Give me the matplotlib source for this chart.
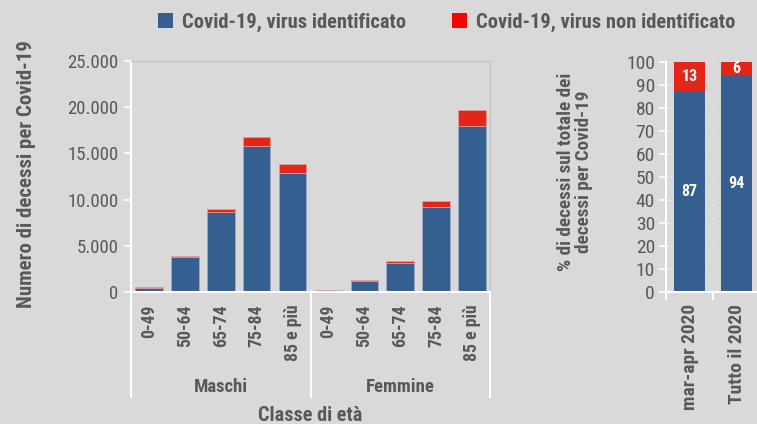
import matplotlib
matplotlib.use("Agg")
import matplotlib.pyplot as plt
from matplotlib.ticker import FuncFormatter, MultipleLocator
from matplotlib.patches import Patch
import numpy as np

# data
eta = ["0-49", "50-64", "65-74", "75-84", "85 e più"]
gruppi = ["Maschi", "Femmine"]
maschi_ident = [480, 3750, 8700, 15850, 12850]
maschi_non = [40, 170, 320, 900, 1000]
femmine_ident = [170, 1150, 3150, 9200, 17950]
femmine_non = [30, 140, 200, 650, 1700]

periodi = ["mar-apr 2020", "Tutto il 2020"]
perc_ident = [87, 94]
perc_non = [13, 6]

BLUE = "#355F91"
RED = "#E42619"
BG = "#D9D9D9"
GREY = "#595959"
FONT = ["Roboto Condensed", "DejaVu Sans"]

plt.rcParams["font.family"] = FONT

fig = plt.figure(figsize=(7.57, 4.24), dpi=100, facecolor=BG)

# ---- left chart: absolute numbers
ax = fig.add_axes([0.1731, 0.3113, 0.4742, 0.5448], facecolor=BG)
ident = maschi_ident + femmine_ident
non = maschi_non + femmine_non
x = np.arange(len(ident))
ax.bar(x, ident, width=0.77, color=BLUE, edgecolor="#9fb0c8", linewidth=0.5)
ax.bar(x, non, bottom=ident, width=0.77, color=RED, edgecolor="#e9a0a0", linewidth=0.5)
ax.set_xlim(-0.5, len(ident) - 0.5)
ax.set_ylim(0, 25000)
ax.yaxis.set_major_locator(MultipleLocator(5000))
ax.yaxis.set_major_formatter(FuncFormatter(lambda v, p: f"{int(v):,}".replace(",", ".")))
ax.set_xticks(x)
ax.set_xticklabels(eta * 2, rotation=90, fontweight="bold", fontsize=12.8, color=GREY)
ax.tick_params(axis="x", length=0, pad=9)
ax.tick_params(axis="y", colors="white", labelcolor=GREY, labelsize=13.5, length=5, width=1.2, pad=4)
for s in ["left", "bottom"]:
    ax.spines[s].set_color("white")
    ax.spines[s].set_linewidth(1.5)
for s in ["top", "right"]:
    ax.spines[s].set_color("#c4c4c4")
    ax.spines[s].set_linewidth(1)

# group separators and labels under the axis
tr = ax.get_xaxis_transform()
for xv in [-0.5, 4.5, 9.5]:
    ax.plot([xv, xv], [0, -0.455], transform=tr, color="white", lw=1.5, clip_on=False)
for i, g in enumerate(gruppi):
    ax.text(2 + 5 * i, -0.41, g, transform=tr, ha="center", va="center",
            fontsize=13.5, fontweight="bold", color=GREY)
fig.text(0.4095, 0.021, "Classe di età", ha="center", va="center",
         fontsize=14.6, fontweight="bold", color=GREY)
fig.text(0.035, 0.59, "Numero di decessi per Covid-19", rotation=90,
         ha="center", va="center", fontsize=15, fontweight="bold", color=GREY)

# ---- right chart: percentages
ax2 = fig.add_axes([0.8798, 0.312, 0.1242, 0.5425], facecolor=BG)
xp = np.arange(len(periodi))
ax2.bar(xp, perc_ident, width=0.64, color=BLUE)
ax2.bar(xp, perc_non, bottom=perc_ident, width=0.64, color=RED)
for i in xp:
    ax2.text(i, perc_ident[i] / 2, str(perc_ident[i]), ha="center", va="center",
             color="white", fontsize=11.5, fontweight="bold")
    ax2.text(i, perc_ident[i] + perc_non[i] / 2, str(perc_non[i]), ha="center", va="center",
             color="white", fontsize=11.5, fontweight="bold")
ax2.set_xlim(-0.5, 1.5)
ax2.set_ylim(0, 100)
ax2.yaxis.set_major_locator(MultipleLocator(10))
ax2.set_axisbelow(True)
ax2.grid(axis="y", color="#e4e4e4", lw=0.8, ls=(0, (5, 3)))
ax2.set_xticks([-0.5, 0.5], minor=False)
ax2.set_xticklabels([])
ax2.set_xticks(xp, minor=True)
ax2.set_xticklabels(periodi, minor=True, rotation=90, fontsize=14,
                    fontweight="bold", color=GREY)
ax2.tick_params(axis="x", which="minor", length=0, pad=9)
ax2.tick_params(axis="x", which="major", colors="white", length=6, width=1.5)
ax2.tick_params(axis="y", colors="white", labelcolor=GREY, labelsize=14, length=5, width=1.2, pad=3)
for s in ["left", "bottom"]:
    ax2.spines[s].set_color("white")
    ax2.spines[s].set_linewidth(1.5)
for s in ["top", "right"]:
    ax2.spines[s].set_visible(False)
fig.text(0.76, 0.594, "% di decessi sul totale dei\ndecessi per Covid-19", rotation=90,
         ha="center", va="center", fontsize=13.8, fontweight="bold", color=GREY,
         linespacing=1.0)

# legend
handles = [Patch(facecolor=BLUE, label="Covid-19, virus identificato"),
           Patch(facecolor="#FF0000", label="Covid-19, virus non identificato")]
fig.legend(handles=handles, loc="center", bbox_to_anchor=(0.59, 0.948), ncol=2,
           frameon=False, handlelength=0.75, handleheight=0.75, handletextpad=0.45,
           columnspacing=2.2, prop={"family": FONT, "weight": "bold", "size": 14.8},
           labelcolor=GREY)

fig.savefig("out.png", dpi=100, facecolor=BG)
